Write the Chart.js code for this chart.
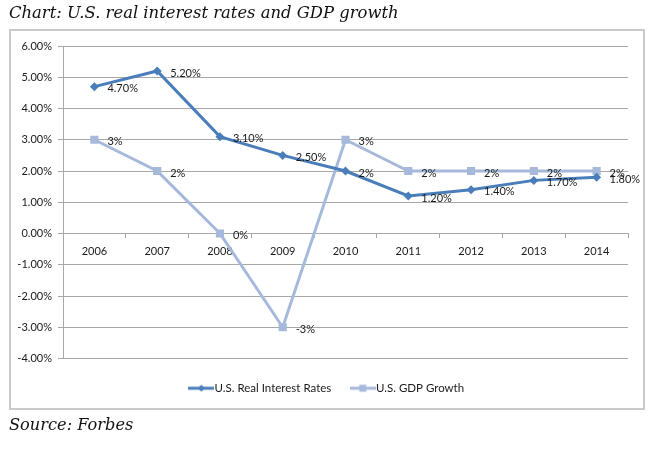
<!DOCTYPE html>
<html>
<head>
<meta charset="utf-8">
<script src="https://cdn.jsdelivr.net/npm/chart.js@4"></script>
<style>
  html, body { margin: 0; padding: 0; background: #fff; }
  #wrap { position: relative; width: 667px; height: 455px; }
  #c { position: absolute; left: 0; top: 0; }
  .cap { position: absolute; font-family: "DejaVu Serif", serif; font-style: italic; color: #111; white-space: nowrap; line-height: 1; }
  #title { left: 9px; top: 5px; font-size: 16.4px; }
  #source { left: 9px; top: 417px; font-size: 16.2px; }
</style>
</head>
<body>
<div id="wrap">
  <canvas id="c" width="667" height="455"></canvas>
  <div id="title" class="cap">Chart: U.S. real interest rates and GDP growth</div>
  <div id="source" class="cap">Source: Forbes</div>
</div>
<script>
const years = ['2006','2007','2008','2009','2010','2011','2012','2013','2014'];
const realRates = [4.7, 5.2, 3.1, 2.5, 2.0, 1.2, 1.4, 1.7, 1.8];
const realRateLabels = ['4.70%','5.20%','3.10%','2.50%','2%','1.20%','1.40%','1.70%','1.80%'];
const gdpGrowth = [3, 2, 0, -3, 3, 2, 2, 2, 2];
const gdpLabels = ['3%','2%','0%','-3%','3%','2%','2%','2%','2%'];
const seriesNames = ['U.S. Real Interest Rates', 'U.S. GDP Growth'];

const DARK = '#4a7ebb';
const LIGHT = '#a6b9db';
const GRID = '#a8a8a8';
const TEXT = '#1a1a1a';
const FONT = 'Lato';

function legendImage(color, style) {
  const cv = document.createElement('canvas');
  cv.width = 26; cv.height = 10;
  const g = cv.getContext('2d');
  g.strokeStyle = color; g.lineWidth = 3;
  g.beginPath(); g.moveTo(0, 5); g.lineTo(26, 5); g.stroke();
  g.fillStyle = color;
  g.beginPath();
  if (style === 'diamond') {
    g.moveTo(13, 1.5); g.lineTo(16.5, 5); g.lineTo(13, 8.5); g.lineTo(9.5, 5); g.closePath();
  } else {
    g.rect(9.5, 1.5, 7, 7);
  }
  g.fill();
  return cv;
}

const boxPlugin = {
  id: 'box',
  beforeDraw(chart) {
    const ctx = chart.ctx;
    ctx.save();
    ctx.fillStyle = '#fff';
    ctx.fillRect(0, 0, chart.width, chart.height);
    ctx.strokeStyle = '#c9c9c9';
    ctx.lineWidth = 2;
    ctx.strokeRect(10, 30, 634, 379);
    ctx.restore();
  }
};

const labelPlugin = {
  id: 'dataLabels',
  afterDatasetsDraw(chart) {
    const ctx = chart.ctx;
    ctx.save();
    ctx.font = '11px ' + FONT;
    ctx.fillStyle = TEXT;
    ctx.textAlign = 'left';
    ctx.textBaseline = 'middle';
    const sets = [realRateLabels, gdpLabels];
    chart.data.datasets.forEach((ds, i) => {
      const meta = chart.getDatasetMeta(i);
      meta.data.forEach((pt, j) => {
        ctx.fillText(sets[i][j], pt.x + 13, pt.y + 2);
      });
    });
    ctx.restore();
  }
};

new Chart(document.getElementById('c'), {
  type: 'line',
  data: {
    labels: years,
    datasets: [
      {
        label: seriesNames[0], data: realRates,
        borderColor: DARK, backgroundColor: DARK, borderWidth: 3,
        pointStyle: 'rectRot', pointRadius: 4.5, pointBorderWidth: 0,
        tension: 0, order: 1
      },
      {
        label: seriesNames[1], data: gdpGrowth,
        borderColor: LIGHT, backgroundColor: LIGHT, borderWidth: 3,
        pointStyle: 'rect', pointRadius: 5.8, pointBorderWidth: 0,
        tension: 0, order: 2
      }
    ]
  },
  options: {
    responsive: false,
    animation: false,
    layout: { padding: { left: 0, right: 9, top: 46, bottom: 51 } },
    plugins: {
      tooltip: { enabled: false },
      legend: {
        position: 'bottom',
        labels: {
          font: { family: FONT, size: 11.5 },
          color: TEXT,
          padding: 24,
          usePointStyle: true,
          pointStyleWidth: 15,
          generateLabels(chart) {
            return chart.data.datasets.map((ds, i) => ({
              text: ds.label,
              pointStyle: legendImage(i === 0 ? DARK : LIGHT, i === 0 ? 'diamond' : 'square'),
              fillStyle: ds.borderColor,
              strokeStyle: ds.borderColor,
              lineWidth: 0,
              hidden: false,
              datasetIndex: i,
              fontColor: TEXT
            }));
          }
        }
      }
    },
    scales: {
      x: {
        position: { y: 0 },
        offset: true,
        grid: { drawOnChartArea: false, drawTicks: true, tickLength: 4, color: GRID, offset: true },
        border: { display: true, color: GRID, width: 1 },
        ticks: { font: { family: FONT, size: 11 }, color: TEXT, padding: 7, maxRotation: 0, autoSkip: false }
      },
      y: {
        min: -4, max: 6,
        afterFit(scale) { scale.width = 63; },
        grid: { color: GRID, tickLength: 5, drawTicks: true },
        border: { display: true, color: GRID, width: 1 },
        ticks: {
          stepSize: 1, padding: 6,
          font: { family: FONT, size: 11 }, color: TEXT,
          callback: v => v.toFixed(2) + '%'
        }
      },
      yRight: {
        position: 'right',
        display: true,
        afterFit(scale) { scale.width = 30; },
        grid: { display: false },
        border: { display: false },
        ticks: { display: false }
      }
    }
  },
  plugins: [boxPlugin, labelPlugin]
});
</script>
</body>
</html>
